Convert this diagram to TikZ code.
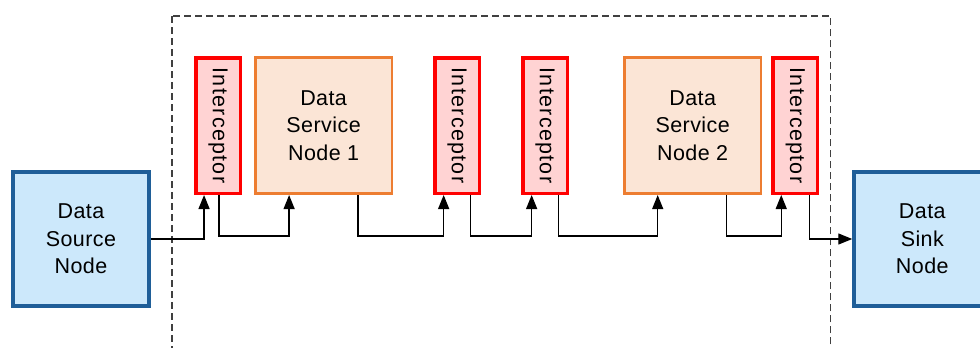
\documentclass[tikz,border=0pt]{standalone}
\usepackage{fontspec}
\setmainfont[LetterSpace=2]{Liberation Sans}
\newfontfamily\icpfont[LetterSpace=6]{Liberation Sans}
\usetikzlibrary{arrows.meta, positioning, calc}
\definecolor{endblue}{HTML}{1F5E98}
\definecolor{endfill}{HTML}{CCE8FB}
\definecolor{icpred}{HTML}{FF0000}
\definecolor{icpfill}{HTML}{FFD3D3}
\definecolor{svcorange}{HTML}{ED7D31}
\definecolor{svcfill}{HTML}{FBE5D6}
\tikzset{
    endpoint/.style={rectangle, minimum width=136.5pt, minimum height=134.5pt, align=center, draw=endblue, fill=endfill, line width=3.6pt},
    interceptor/.style={rectangle, minimum width=44.5pt, minimum height=135.5pt, inner sep=0pt, draw=icpred, fill=icpfill, line width=3.5pt, font=\icpfont\fontsize{21.5pt}{27.5pt}\selectfont},
    service/.style={rectangle, minimum width=136.5pt, minimum height=136.5pt, align=center, draw=svcorange, fill=svcfill, line width=2.6pt},
    arrow/.style={line width=1.3pt, -{Triangle[length=14pt, width=11pt]}},
    % cadre pointille autour des noeuds de service
    groupbox/.style={draw=black!75, line width=1.2pt, dash pattern=on 7pt off 4pt}
}
\begin{document}
\begin{tikzpicture}[font=\fontsize{21.5pt}{27.5pt}\selectfont]

    \useasboundingbox (0,0) rectangle (980pt,-348pt);

    % --- NOEUDS ---
    \node (source) [endpoint] at (81pt,-239pt) {Data\\Source\\Node};
    \node (int1) [interceptor, right=43pt of source, yshift=113.5pt] {\rotatebox{-90}{Interceptor}};
    \node (svc1) [service, right=12pt of int1] {Data\\Service\\Node 1};
    \node (int2) [interceptor, right=40pt of svc1] {\rotatebox{-90}{Interceptor}};
    \node (int3) [interceptor, right=40pt of int2] {\rotatebox{-90}{Interceptor}};
    \node (svc2) [service, right=54pt of int3] {Data\\Service\\Node 2};
    \node (int4) [interceptor, right=9pt of svc2] {\rotatebox{-90}{Interceptor}};
    \node (sink) [endpoint, right=33pt of int4, yshift=-113.5pt] {Data\\Sink\\Node};

    % --- CADRE ---
    \draw [groupbox] ([xshift=-22pt, yshift=40pt]int1.north west) rectangle ($(int4.east |- sink.south) + (11pt,-60pt)$);

    % --- FLECHES ---
    \draw [arrow] (source.east) -| ([xshift=-14pt]int1.south);
    \draw [arrow] ([xshift=1pt]int1.south) -- ++(0,-41pt) -| ([xshift=-34.5pt]svc1.south);
    \draw [arrow] ([xshift=34.5pt]svc1.south) -- ++(0,-41pt) -| ([xshift=-13.5pt]int2.south);
    \draw [arrow] ([xshift=13.5pt]int2.south) -- ++(0,-41pt) -| ([xshift=-13.5pt]int3.south);
    \draw [arrow] ([xshift=13.5pt]int3.south) -- ++(0,-41pt) -| ([xshift=-35pt]svc2.south);
    \draw [arrow] ([xshift=34pt]svc2.south) -- ++(0,-41pt) -| ([xshift=-14pt]int4.south);
    \draw [arrow] ([xshift=14pt]int4.south) |- (sink.west);

\end{tikzpicture}
\end{document}
